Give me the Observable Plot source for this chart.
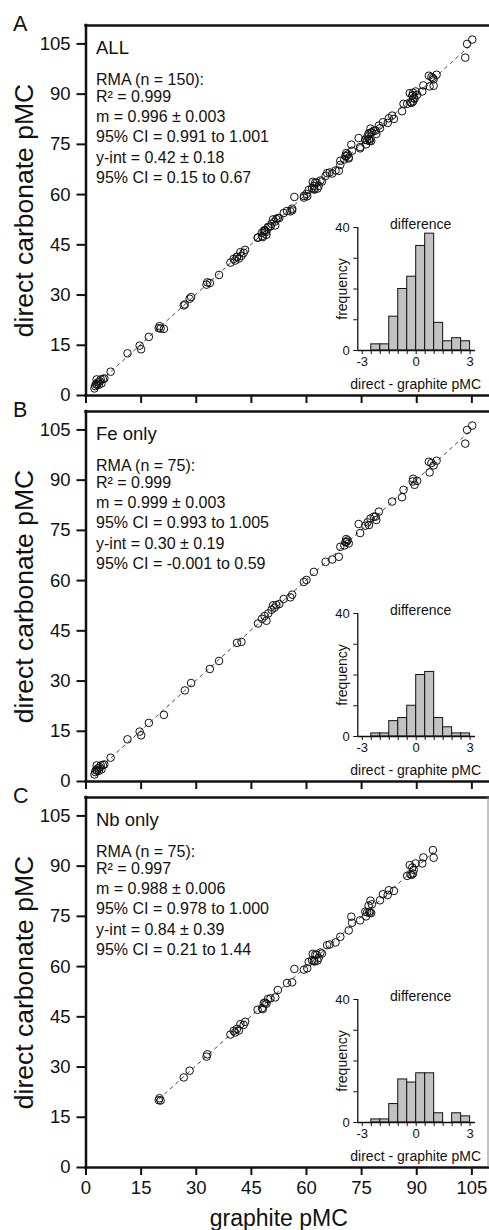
<!DOCTYPE html>
<html><head><meta charset="utf-8">
<script src="https://cdn.jsdelivr.net/npm/d3@7"></script>
<script src="https://cdn.jsdelivr.net/npm/@observablehq/plot@0.6"></script>
<style>
html,body{margin:0;padding:0;background:#fff;}
#fig{position:relative;width:489px;height:1230px;overflow:hidden;background:#fff;}
.layer{position:absolute;}
.main svg [aria-label="y-axis tick"] path,
.main svg [aria-label="x-axis tick"] path,
.main svg .tick line{stroke-width:2px;}
</style></head>
<body><div id="fig"></div>
<script>
// ---------------- data ----------------
const feGraphite = [2.3,2.5,2.7,2.9,3.0,3.2,3.5,3.8,4.0,4.2,4.6,5.0,6.7,11.3,14.6,15.0,17.1,21.2,26.9,28.6,33.7,36.2,41.1,42.3,46.8,47.9,48.6,49.1,49.6,50.5,50.9,51.3,51.8,52.6,53.8,55.6,56.1,59.3,60.0,62.0,65.2,67.0,68.8,69.2,70.3,70.6,70.8,70.9,71.2,71.5,74.2,74.6,76.0,76.6,77.0,77.4,78.3,78.8,79.0,79.7,83.3,86.0,86.4,88.9,89.0,89.4,90.1,93.3,93.5,94.0,94.6,95.4,103.2,103.7,105.1];
const feDirect   = [2.1,2.8,3.4,4.8,3.2,3.9,3.2,4.2,4.8,3.6,4.9,5.1,7.1,12.6,14.9,13.8,17.5,19.9,27.2,29.4,33.6,36.0,41.4,41.7,47.2,48.6,49.4,48.0,50.2,51.3,52.6,51.9,52.7,53.0,54.5,55.0,55.8,59.6,60.2,62.6,65.6,66.3,67.1,70.1,70.5,71.5,72.4,71.6,72.0,71.1,76.9,74.2,76.4,77.4,76.6,78.5,79.1,79.1,78.1,80.6,83.6,84.9,87.1,89.6,90.4,88.6,89.8,95.5,92.3,95.1,94.4,95.8,100.9,105.0,106.3];
const nbGraphite = [19.8,20.0,20.3,26.6,28.2,32.8,33.0,39.3,40.2,40.6,41.1,41.6,42.0,42.9,43.3,46.7,47.9,48.1,48.4,48.8,49.1,49.5,50.2,51.5,52.2,54.7,56.1,56.7,59.3,60.2,60.6,61.5,61.7,62.0,62.2,62.4,62.8,63.0,63.3,63.8,64.2,65.6,66.3,67.9,69.2,71.5,72.2,72.4,74.6,76.0,76.2,76.5,76.9,77.1,77.2,77.4,77.6,77.8,80.0,80.8,82.1,82.4,83.8,87.4,88.1,88.3,88.6,88.8,89.0,89.2,89.7,91.5,91.8,94.4,94.6];
const nbDirect   = [20.1,20.7,20.0,26.9,28.9,33.1,33.8,39.7,40.8,40.3,41.4,40.9,42.8,42.6,43.5,47.1,47.6,47.3,49.1,49.2,48.9,50.3,50.5,50.8,53.0,55.1,55.3,59.3,59.1,59.5,61.4,61.9,63.8,61.7,61.5,63.6,63.5,61.8,62.6,64.2,63.9,66.4,66.6,67.2,68.9,70.8,74.9,73.1,73.8,76.4,75.0,76.2,78.2,76.4,76.0,79.7,76.0,78.6,79.8,81.6,81.4,82.8,82.6,87.1,90.3,87.6,87.4,89.6,87.8,88.9,90.8,90.8,92.6,94.8,92.5];

const panelLetters = ["A", "B", "C"];
const panelTitles  = ["ALL", "Fe only", "Nb only"];
const nValues      = [150, 75, 75];
const r2Values     = ["0.999", "0.999", "0.997"];
const slopeText    = ["0.996 ± 0.003", "0.999 ± 0.003", "0.988 ± 0.006"];
const slopeCI      = ["0.991 to 1.001", "0.993 to 1.005", "0.978 to 1.000"];
const yintText     = ["0.42 ± 0.18", "0.30 ± 0.19", "0.84 ± 0.39"];
const yintCI       = ["0.15 to 0.67", "-0.001 to 0.59", "0.21 to 1.44"];
const slopes       = [0.996, 0.999, 0.988];
const intercepts   = [0.42, 0.30, 0.84];

const axisTicks    = [0, 15, 30, 45, 60, 75, 90, 105];
const yLabel = "direct carbonate pMC";
const xLabel = "graphite pMC";

const binStarts = [-2.5, -2.0, -1.5, -1.0, -0.5, 0.0, 0.5, 1.0, 1.5, 2.0, 2.5];
const histAll = [2, 2, 11, 20, 24, 34, 38, 9, 3, 4, 3];
const histFe  = [1, 1, 5, 6, 10, 20, 21, 6, 3, 1, 1];
const histNb  = [1, 1, 6, 14, 13, 16, 16, 3, 0, 3, 2];
const binWidth = 0.5;
const insetXTicks  = [-3, -2.5, -2, -1.5, -1, -0.5, 0, 0.5, 1, 1.5, 2, 2.5, 3];
const insetXLabels = [-3, 0, 3];
const insetYTicks  = [0, 10, 20, 30, 40];
const insetYLabels = [0, 40];
const insetTitle = "difference", insetYTitle = "frequency", insetXTitle = "direct - graphite pMC";

// ---------------- layout ----------------
const FONT = "'Liberation Sans', Arial, Helvetica, sans-serif";
const fig = document.getElementById("fig");
function place(el, cls, left, top) {
  const div = document.createElement("div");
  div.className = "layer " + cls;
  div.style.left = left + "px";
  div.style.top = top + "px";
  div.appendChild(el);
  fig.appendChild(div);
}
const panelTop = [0, 386, 772];
const panelHeight = [420, 420, 458];
const Y_TOP = 110.5, X_RIGHT = 109.8;

const groups = [
  {g: feGraphite.concat(nbGraphite), d: feDirect.concat(nbDirect), h: histAll},
  {g: feGraphite, d: feDirect, h: histFe},
  {g: nbGraphite, d: nbDirect, h: histNb}
];

groups.forEach((grp, i) => {
  const pts = grp.g.map((v, k) => ({g: v, d: grp.d[k]}));
  const gMin = d3.min(grp.g), gMax = d3.max(grp.g);
  const fit = [{x1: gMin, y1: slopes[i] * gMin + intercepts[i], x2: gMax, y2: slopes[i] * gMax + intercepts[i]}];
  const H = panelHeight[i];
  const last = i === 2;
  const lines = [
    [panelTitles[i], 28, 18.5],
    [`RMA (n = ${nValues[i]}):`, 59, 16],
    [`R² = ${r2Values[i]}`, 76.5, 16],
    [`m = ${slopeText[i]}`, 96, 16],
    [`95% CI = ${slopeCI[i]}`, 116, 16],
    [`y-int = ${yintText[i]}`, 137, 16],
    [`95% CI = ${yintCI[i]}`, 157, 16]
  ];
  const marks = [
    Plot.link(fit, {x1: "x1", y1: "y1", x2: "x2", y2: "y2", stroke: "#333", strokeWidth: 0.9, strokeDasharray: "4,3.5"}),
    Plot.dot(pts, {x: "g", y: "d", r: 3.8, stroke: "#111", strokeWidth: 1, fill: "none"}),
    Plot.ruleY([0], {strokeWidth: 2.5, strokeLinecap: "square", stroke: "#111"}),
    Plot.ruleY([Y_TOP], {strokeWidth: 2.5, strokeLinecap: "square", stroke: "#111"}),
    Plot.ruleX([0], {strokeWidth: 2.5, strokeLinecap: "square", stroke: "#111"}),
    Plot.text([panelLetters[i]], {frameAnchor: "top-left", dx: -73, dy: 5.5, textAnchor: "start", lineAnchor: "bottom", fontSize: 21.5}),
    Plot.text([yLabel], {frameAnchor: "left", rotate: -90, dx: -61, textAnchor: "middle", lineAnchor: "middle", fontSize: 26.5}),
    ...lines.map(([t, dy, fs]) => Plot.text([t], {frameAnchor: "top-left", dx: 10, dy, textAnchor: "start", lineAnchor: "bottom", fontSize: fs}))
  ];
  if (last) {
    marks.push(Plot.text([xLabel], {frameAnchor: "bottom", dx: -9, dy: 58, textAnchor: "middle", lineAnchor: "bottom", fontSize: 23}));
    marks.push(Plot.ruleX([109.4], {stroke: "#888", strokeWidth: 1}));
  }
  const chart = Plot.plot({
    width: 489, height: H,
    marginLeft: 85.5, marginRight: 0, marginTop: 25, marginBottom: H - 395,
    style: {background: "transparent", overflow: "visible", fontFamily: FONT, fontSize: "18.5px", color: "#111"},
    x: {domain: [0, X_RIGHT], ticks: axisTicks, tickSize: 8, tickPadding: 5, tickFormat: last ? (d => String(d)) : (() => ""), label: null},
    y: {domain: [0, Y_TOP], ticks: axisTicks, tickSize: 9, tickPadding: 6.5, tickFormat: d => String(d), label: null},
    marks
  });
  place(chart, "main", 0, panelTop[i]);

  // inset histogram
  const bins = binStarts.map((s, k) => ({x1: s, x2: s + binWidth, count: grp.h[k]})).filter(b => b.count > 0);
  const inset = Plot.plot({
    width: 189, height: 200,
    marginLeft: 57.3, marginRight: 14, marginTop: 27, marginBottom: 50,
    style: {background: "transparent", overflow: "visible", fontFamily: FONT, fontSize: "13px", color: "#111"},
    x: {domain: [-3.25, 3.3], ticks: insetXTicks, tickSize: 4, tickPadding: 2.7,
        tickFormat: d => insetXLabels.includes(d) ? String(d) : "", label: null},
    y: {domain: [0, 40], ticks: insetYTicks, tickSize: 4, tickPadding: 4,
        tickFormat: d => insetYLabels.includes(d) ? String(d) : "", label: null},
    marks: [
      Plot.rect(bins, {x1: "x1", x2: "x2", y1: () => 0, y2: "count", fill: "#c2c2c2", stroke: "#111", strokeWidth: 1}),
      Plot.ruleY([0], {strokeWidth: 1.3, stroke: "#111"}),
      Plot.ruleX([-3.25], {y1: 0, y2: 40, strokeWidth: 1.3, stroke: "#111"}),
      Plot.text([insetTitle], {frameAnchor: "top", dx: 4, dy: 1, textAnchor: "middle", lineAnchor: "bottom", fontSize: 14}),
      Plot.text([insetYTitle], {frameAnchor: "left", rotate: -90, dx: -15.6, textAnchor: "middle", lineAnchor: "middle", fontSize: 14}),
      Plot.text([insetXTitle], {frameAnchor: "bottom", dx: -1, dy: 38, textAnchor: "middle", lineAnchor: "bottom", fontSize: 14})
    ]
  });
  place(inset, "inset", 300, panelTop[i] + 200);
});
</script>
</body></html>
